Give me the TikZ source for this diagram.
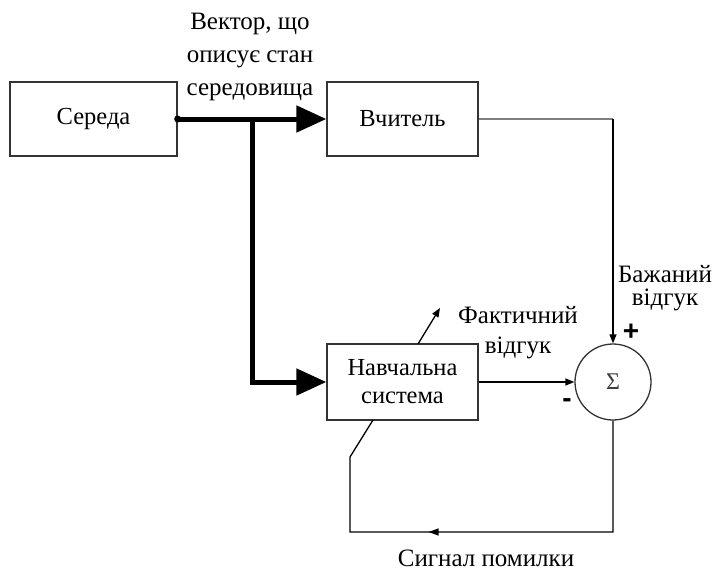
\documentclass[tikz,border=0pt]{standalone}
\usepackage{fontspec}
\setmainfont{Liberation Serif}
\usetikzlibrary{arrows.meta,decorations.markings,calc}
\begin{document}
\begin{tikzpicture}[x=1pt,y=-1pt,
  blk/.style={draw=black!80,line width=1.3pt,minimum width=151pt,minimum height=74pt,inner sep=0pt,align=center,font=\fontsize{24.5}{28}\selectfont},
  lbl/.style={align=center,font=\fontsize{25}{33}\selectfont,inner sep=0pt},
  thickarr/.style={line width=5pt,-{Triangle[length=30pt,width=26pt]}},
  thin/.style={line width=1.3pt,-{Triangle[length=9pt,width=7pt]}},
  sign/.style={inner sep=0pt,font=\fontspec{Liberation Sans}\bfseries\fontsize{28}{28}\selectfont},
  midleft/.style={postaction={decorate},decoration={markings,mark=at position 0.6 with {\arrow{Triangle[length=10pt,width=7pt]}}}}]
\useasboundingbox (0,0) rectangle (723,573);
\node[blk,minimum width=167pt] (env) at (93.5,119) {Середа};
\node[blk] (teach) at (402.5,119) {Вчитель};
\node[blk,minimum height=76pt] (learn) at (402.5,382) {Навчальна\\система};
\node[draw=black!80,line width=1.3pt,circle,minimum size=76pt,inner sep=0pt,font=\fontsize{24}{24}\selectfont,text=black!75] (sum) at (613,382) {Σ};
\coordinate (br) at (252,119);
\coordinate (tr) at (613,119);
\coordinate (bl) at (613,532);
\coordinate (bll) at (350,532);
\coordinate (kink) at (350,457);
\coordinate (lb) at (373,420);
\coordinate (adjs) at (418,344);
\coordinate (adje) at (440,308);
% thick vector
\fill (env.east) circle (3.5pt);
\draw[thickarr] (env.east) -- (teach.west);
\draw[thickarr] (br) -- (252,382) -- (learn.west);
% teacher to sum
\draw[line width=2pt,black!50] (teach.east) -- (tr);
\draw[thin] (tr) -- (sum.north);
% actual response
\draw[thin] (learn.east) -- (sum.west);
% adjust arrow
\draw[thin] (adjs) -- (adje);
% error
\draw[line width=1.3pt,midleft] (sum.south) -- (bl) -- (bll) -- (kink) -- (lb);
% labels
\node[lbl] (vec) at (250,57) {Вектор, що\\описує стан\\середовища};
\node[lbl,font=\fontsize{25}{23}\selectfont] (des) at (665,288) {Бажаний\\відгук};
\node[lbl,font=\fontsize{25}{30}\selectfont] (act) at (518,333) {Фактичний\\відгук};
\node[lbl] (err) at (486,558) {Сигнал помилки};
\node[sign] (plus) at (631,332) {+};
\node[sign] (minus) at (567,403) {-};
\end{tikzpicture}
\end{document}
